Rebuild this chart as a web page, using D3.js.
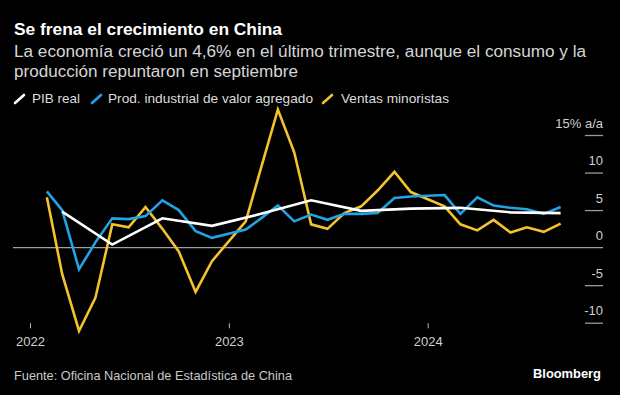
<!DOCTYPE html>
<html>
<head>
<meta charset="utf-8">
<script src="https://cdn.jsdelivr.net/npm/d3@7"></script>
<style>
  html, body { margin: 0; padding: 0; background: #000; }
  svg { display: block; }
  text { font-family: "Liberation Sans", Arial, sans-serif; }
</style>
</head>
<body>
<script>
// ---- Data ----
const gdpDates = ["2022-03","2022-06","2022-09","2022-12","2023-03","2023-06","2023-09","2023-12","2024-03","2024-06","2024-09"];
const gdpValues = [4.8, 0.4, 3.9, 2.9, 4.5, 6.3, 4.9, 5.2, 5.3, 4.7, 4.6];

const monthlyDates = ["2022-02","2022-03","2022-04","2022-05","2022-06","2022-07","2022-08","2022-09","2022-10","2022-11","2022-12",
  "2023-02","2023-03","2023-04","2023-05","2023-06","2023-07","2023-08","2023-09","2023-10","2023-11","2023-12",
  "2024-02","2024-03","2024-04","2024-05","2024-06","2024-07","2024-08","2024-09"];
const industryValues = [7.5, 5.0, -2.9, 0.7, 3.9, 3.8, 4.2, 6.3, 5.0, 2.2, 1.3,
  2.4, 3.9, 5.6, 3.5, 4.4, 3.7, 4.5, 4.5, 4.6, 6.6, 6.8,
  7.0, 4.5, 6.7, 5.6, 5.3, 5.1, 4.5, 5.4];
const retailValues = [6.7, -3.5, -11.1, -6.7, 3.1, 2.7, 5.4, 2.5, -0.5, -5.9, -1.8,
  3.5, 10.6, 18.4, 12.7, 3.1, 2.5, 4.6, 5.5, 7.6, 10.1, 7.4,
  5.5, 3.1, 2.3, 3.7, 2.0, 2.7, 2.1, 3.2];

const yTicks = [-10, -5, 0, 5, 10, 15];
const xTickYears = ["2022", "2023", "2024"];
const seriesNames = ["PIB real", "Prod. industrial de valor agregado", "Ventas minoristas"];
const seriesColors = ["#ffffff", "#22a3e3", "#f3c22c"];

const title = "Se frena el crecimiento en China";
const subtitle1 = "La economía creció un 4,6% en el último trimestre, aunque el consumo y la";
const subtitle2 = "producción repuntaron en septiembre";
const source = "Fuente: Oficina Nacional de Estadística de China";

// ---- Setup ----
const W = 620, H = 395;
const parse = d3.timeParse("%Y-%m");
const svg = d3.select("body").append("svg").attr("width", W).attr("height", H);
svg.append("rect").attr("width", W).attr("height", H).attr("fill", "#000");

const x = d3.scaleTime().domain([new Date(2022,0,1), new Date(2024,0,1)]).range([30, 427.7]);
const y = d3.scaleLinear().domain([-10, 15]).range([322.7, 135]);

// Title etc.
function fitText(sel, w) { sel.attr("textLength", w).attr("lengthAdjust", "spacingAndGlyphs"); return sel; }
fitText(svg.append("text").attr("x", 14).attr("y", 35).attr("fill", "#fff")
  .attr("font-size", 17).attr("font-weight", "bold").text(title), 268);
fitText(svg.append("text").attr("x", 14).attr("y", 56.5).attr("fill", "#d6d6d6")
  .attr("font-size", 16).text(subtitle1), 572);
fitText(svg.append("text").attr("x", 14).attr("y", 76.5).attr("fill", "#d6d6d6")
  .attr("font-size", 16).text(subtitle2), 284);

// Legend
const legendX = [15, 92, 323];
const legendTextX = [32, 108, 341];
const legendTextW = [48, 205, 108];
seriesNames.forEach((name, i) => {
  svg.append("line").attr("x1", legendX[i]).attr("y1", 103).attr("x2", legendX[i] + 9).attr("y2", 95)
    .attr("stroke", seriesColors[i]).attr("stroke-width", 2.6).attr("stroke-linecap", "round");
  fitText(svg.append("text").attr("x", legendTextX[i]).attr("y", 102.7).attr("fill", "#dcdcdc")
    .attr("font-size", 13).text(name), legendTextW[i]);
});

// Y axis (right side)
const yAxis = d3.axisLeft(y).tickValues(yTicks).tickSize(18)
  .tickFormat(d => d === 15 ? "15% a/a" : String(d));
const gy = svg.append("g").attr("transform", "translate(603,0)").call(yAxis);
gy.select(".domain").remove();
gy.selectAll(".tick line").attr("stroke", "#9a9a9a").attr("stroke-width", 1.3);
gy.selectAll(".tick text").attr("x", 0).attr("y", -8).attr("dy", 0)
  .attr("text-anchor", "end").attr("fill", "#cfcfcf").attr("font-size", 13)
  .style("font-family", "'Liberation Sans', Arial, sans-serif");
gy.selectAll(".tick").filter(d => d === 0).select("line").remove();

// Zero line
svg.append("line").attr("x1", 13).attr("x2", 603).attr("y1", y(0)).attr("y2", y(0))
  .attr("stroke", "#a0a0a0").attr("stroke-width", 1.4);

// X axis
const xAxis = d3.axisBottom(x).tickValues(xTickYears.map(s => d3.timeParse("%Y")(s)))
  .tickSize(5).tickFormat(d3.timeFormat("%Y"));
const gx = svg.append("g").attr("transform", "translate(0,323.3)").call(xAxis);
gx.select(".domain").remove();
gx.selectAll(".tick line").attr("stroke", "#bdbdbd").attr("stroke-width", 1);
gx.selectAll(".tick text").attr("y", 13).attr("dy", "0.71em").attr("fill", "#d0d0d0")
  .attr("font-size", 13).style("font-family", "'Liberation Sans', Arial, sans-serif");

// Lines
const line = d3.line().x(d => x(d.date)).y(d => y(d.value)).curve(d3.curveLinear);
const retail = monthlyDates.map((d, i) => ({ date: parse(d), value: retailValues[i] }));
const industry = monthlyDates.map((d, i) => ({ date: parse(d), value: industryValues[i] }));
const gdp = gdpDates.map((d, i) => ({ date: parse(d), value: gdpValues[i] }));
[[retail, seriesColors[2]], [industry, seriesColors[1]], [gdp, seriesColors[0]]].forEach(([data, c]) => {
  svg.append("path").datum(data).attr("d", line).attr("fill", "none")
    .attr("stroke", c).attr("stroke-width", 2.6).attr("stroke-linejoin", "miter");
});

// Footer
fitText(svg.append("text").attr("x", 14).attr("y", 380).attr("fill", "#c8c8c8")
  .attr("font-size", 13).text(source), 278);
fitText(svg.append("text").attr("x", 601).attr("y", 378).attr("text-anchor", "end").attr("fill", "#fff")
  .attr("font-size", 13.5).attr("font-weight", "bold").text("Bloomberg"), 68);
</script>
</body>
</html>
